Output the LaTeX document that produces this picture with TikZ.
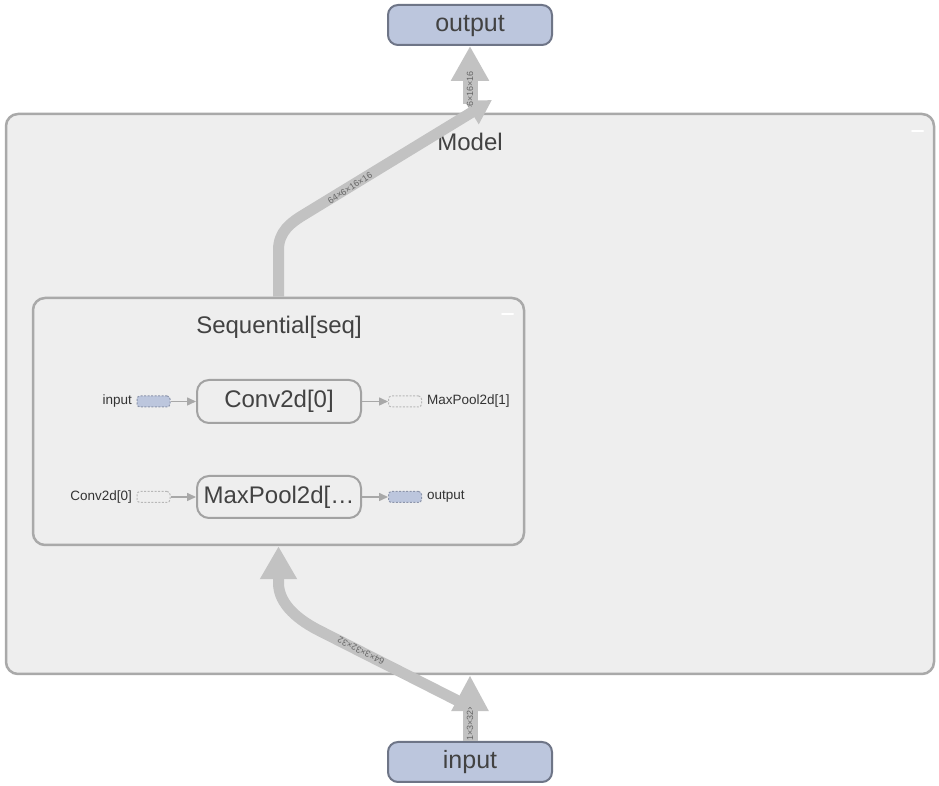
\documentclass[tikz,border=0pt]{standalone}
\usepackage{fontspec}
\setmainfont{Liberation Sans}
\usetikzlibrary{arrows.meta}

\definecolor{iofill}{HTML}{BCC6DD}
\definecolor{ioborder}{HTML}{6E7587}
\definecolor{groupfill}{HTML}{EEEEEE}
\definecolor{groupborder}{HTML}{A9A9A9}
\definecolor{opborder}{HTML}{A2A2A2}
\definecolor{bandcol}{HTML}{C2C2C2}
\definecolor{thincol}{HTML}{A8A8A8}
\definecolor{ink}{HTML}{424242}
\definecolor{smallink}{HTML}{333333}
\definecolor{bandink}{HTML}{666666}
\definecolor{stubdash}{HTML}{8C95AB}
\definecolor{emptydash}{HTML}{B8B8B8}

\begin{document}
\begin{tikzpicture}[x=1pt,y=1pt,
  iobox/.style={draw=ioborder, fill=iofill, line width=2pt, rounded corners=10pt,
    minimum width=164pt, minimum height=40pt, inner sep=0pt, text=ink,
    text height=16pt, text depth=3pt,
    font=\fontsize{25}{28}\selectfont},
  groupbox/.style={draw=groupborder, fill=groupfill, line width=2.5pt,
    rounded corners=12pt, inner sep=0pt},
  grouplabel/.style={text=ink, font=\fontsize{24}{28}\selectfont, inner sep=0pt},
  opbox/.style={draw=opborder, fill=groupfill, line width=2pt, rounded corners=12pt,
    minimum width=164pt, minimum height=42pt, inner sep=0pt, text=ink,
    font=\fontsize{24}{28}\selectfont},
  ioport/.style={draw=stubdash, fill=iofill, dashed, dash pattern=on 2pt off 1.5pt,
    line width=1pt, rounded corners=3pt, minimum width=33pt, minimum height=11pt, inner sep=0pt},
  emptyport/.style={draw=emptydash, fill=groupfill, dashed, dash pattern=on 2pt off 1.5pt,
    line width=1pt, rounded corners=3pt, minimum width=33pt, minimum height=11pt, inner sep=0pt},
  portlabel/.style={text=smallink, font=\fontsize{13.5}{16}\selectfont, inner sep=0pt},
  thinarrow/.style={draw=thincol, line width=1.5pt, -{Triangle[length=9pt,width=8pt]}},
  bandline/.style={draw=bandcol, line cap=butt},
  bandlabel/.style={text=bandink, font=\fontsize{9}{10}\selectfont, inner sep=0pt},
  collapse/.style={draw=white, line width=2pt, line cap=round}
]
\useasboundingbox (0,0) rectangle (939,786);
\fill[white] (0,0) rectangle (939,786);

% outer group and the nested sequential group
\node[groupbox, minimum width=928pt, minimum height=560pt] (model) at (470,392) {};
\node[grouplabel] (modellabel) at (470,644) {Model};
\draw[collapse] (912,655) -- (923,655);

\node[groupbox, minimum width=491pt, minimum height=247pt] (seq) at (278.5,364.5) {};
\node[grouplabel] (seqlabel) at (279,459) {Sequential[seq]};
\draw[collapse] (502,472) -- (513,472);

% graph input and output
\node[iobox] (output) at (470,761) {output};
\node[iobox] (input) at (470,24) {input};

% operations inside the sequential block
\node[opbox, minimum height=43pt] (conv) at (279,384.5) {Conv2d[0]};
\node[opbox] (pool) at (279,289) {MaxPool2d[…};

% port stubs around the operations
\node[ioport] (inport) at (153.5,384.5) {};
\node[portlabel, anchor=east] (inportlabel) at (132,384.5) {input};
\node[emptyport] (convout) at (405,384.5) {};
\node[portlabel, anchor=west] (convoutlabel) at (427,384.5) {MaxPool2d[1]};
\draw[thinarrow] (inport.east) -- (conv.west);
\draw[thinarrow] (conv.east) -- (convout.west);

\node[emptyport] (poolin) at (153.5,289) {};
\node[portlabel, anchor=east] (poolinlabel) at (132,289) {Conv2d[0]};
\node[ioport] (outport) at (405,289) {};
\node[portlabel, anchor=west] (outportlabel) at (427,289) {output};
\draw[thinarrow] (poolin.east) -- (pool.west);
\draw[thinarrow] (pool.east) -- (outport.west);

% thick tensor edges
\coordinate (bandstart) at (470,79);
\coordinate (modelexit) at (492,686);
\coordinate (outstub) at (470,682);

\draw[bandline, line width=11pt, -{Triangle[length=33pt,width=35pt]}]
  (bandstart) -- (320,155) .. controls (300,165) and (278.5,181) .. (278.5,203) -- (seq.south);
\draw[bandline, line width=11pt, -{Triangle[length=24pt,width=26pt]}]
  (seq.north) -- (278.5,536) .. controls (278.5,554) and (290,563) .. (305,572) -- (modelexit);
\draw[bandline, line width=15pt, -{Triangle[length=36pt,width=35pt]}]
  (input.north) -- (model.south);
\draw[bandline, line width=15pt, -{Triangle[length=35pt,width=36pt]}]
  (outstub) -- (output.south);

% tensor shape labels
\node[bandlabel, rotate=33] (innerout) at (350,598) {64×6×16×16};
\node[bandlabel, rotate=153] (innerin) at (361,135) {64×3×32×32};
\begin{scope}
  \clip (462,44) rectangle (478,78);
  \node[bandlabel, rotate=90, anchor=west] (inlabel) at (470,45) {1×3×32×32};
\end{scope}
\begin{scope}
  \clip (462,679) rectangle (478,714);
  \node[bandlabel, rotate=90] (outlabel) at (470,692) {1×6×16×16};
\end{scope}
\end{tikzpicture}
\end{document}
